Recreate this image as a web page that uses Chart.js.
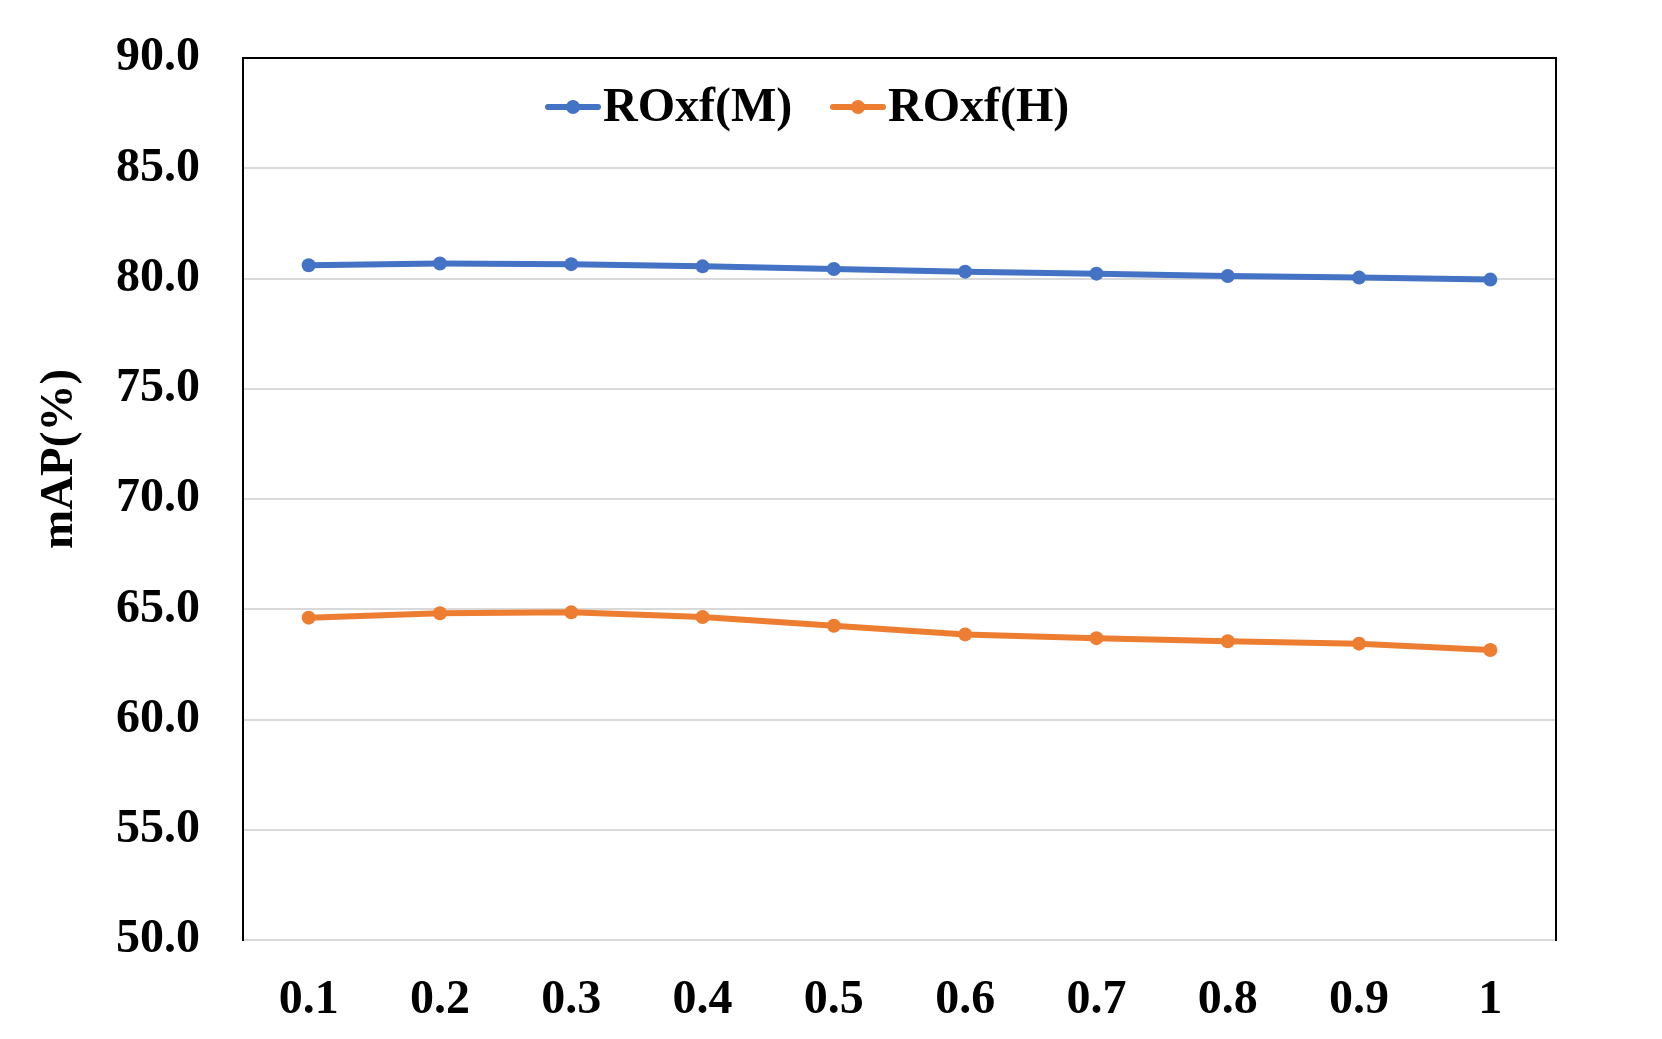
<!DOCTYPE html>
<html>
<head>
<meta charset="utf-8">
<script src="https://cdn.jsdelivr.net/npm/chart.js@4.4.0/dist/chart.umd.min.js"></script>
<style>
  html, body { margin: 0; padding: 0; background: #fff; }
  #wrap { width: 1662px; height: 1039px; }
</style>
</head>
<body>
<div id="wrap"><canvas id="chart"></canvas></div>
<script>
// data
const labels = ['0.1', '0.2', '0.3', '0.4', '0.5', '0.6', '0.7', '0.8', '0.9', '1'];
const mediumVals = [80.60, 80.68, 80.65, 80.55, 80.43, 80.31, 80.22, 80.11, 80.04, 79.95];
const hardVals = [64.62, 64.82, 64.86, 64.65, 64.25, 63.86, 63.69, 63.55, 63.44, 63.15];
const seriesNames = ['ROxf(M)', 'ROxf(H)'];
const yTicks = [50, 55, 60, 65, 70, 75, 80, 85, 90];
const yTitle = 'mAP(%)';

const FONT = "'Liberation Serif', 'Times New Roman', serif";
const BLUE = '#4472C4';
const ORANGE = '#ED7D31';

// legend sits inside the plot and the axis title sits a bit above centre,
// so both are drawn here instead of by the default boxes
const extras = {
  id: 'extras',
  afterDraw(chart) {
    const ctx = chart.ctx;
    const area = chart.chartArea;
    const starts = [305, 590];
    const y = area.top + 49;
    ctx.save();
    ctx.font = 'bold 48px ' + FONT;
    ctx.textBaseline = 'middle';
    ctx.textAlign = 'left';
    chart.data.datasets.forEach((ds, i) => {
      const x0 = area.left + starts[i];
      ctx.strokeStyle = ds.borderColor;
      ctx.lineWidth = ds.borderWidth;
      ctx.lineCap = 'round';
      ctx.beginPath();
      ctx.moveTo(x0, y);
      ctx.lineTo(x0 + 50, y);
      ctx.stroke();
      ctx.fillStyle = ds.borderColor;
      ctx.beginPath();
      ctx.arc(x0 + 25, y, ds.pointRadius, 0, Math.PI * 2);
      ctx.fill();
      ctx.fillStyle = '#000';
      ctx.fillText(ds.label, x0 + 55, y + 2);
    });

    // y axis title
    ctx.translate(60, (area.top + area.bottom) / 2 - 40);
    ctx.rotate(-Math.PI / 2);
    ctx.textAlign = 'center';
    ctx.font = 'bold 47px ' + FONT;
    ctx.fillText(yTitle, 0, 0);
    ctx.restore();
  }
};

new Chart(document.getElementById('chart'), {
  type: 'line',
  data: {
    labels: labels,
    datasets: [{
      label: seriesNames[0],
      data: mediumVals,
      borderColor: BLUE,
      backgroundColor: BLUE,
      borderWidth: 6,
      pointRadius: 7,
      pointBorderWidth: 0,
      tension: 0
    }, {
      label: seriesNames[1],
      data: hardVals,
      borderColor: ORANGE,
      backgroundColor: ORANGE,
      borderWidth: 6,
      pointRadius: 7,
      pointBorderWidth: 0,
      tension: 0
    }]
  },
  options: {
    responsive: true,
    maintainAspectRatio: false,
    animation: false,
    layout: { padding: { top: 58, right: 106, bottom: 0, left: 0 } },
    plugins: {
      legend: { display: false },
      tooltip: { enabled: false }
    },
    scales: {
      x: {
        offset: true,
        grid: { display: false, drawTicks: false },
        border: { display: true, color: '#d9d9d9', width: 2 },
        ticks: {
          color: '#000',
          padding: 32,
          maxRotation: 0,
          font: { family: FONT, size: 48, weight: 'bold' }
        },
        afterFit(scale) { scale.height = 99; }
      },
      xTop: {
        position: 'top',
        offset: true,
        grid: { display: false, drawTicks: false },
        border: { display: true, color: '#000', width: 2 },
        ticks: { display: false },
        afterFit(scale) { scale.height = 0; }
      },
      y: {
        min: 50,
        max: 90,
        afterBuildTicks(scale) { scale.ticks = yTicks.map(v => ({ value: v })); },
        grid: { color: '#d9d9d9', lineWidth: 2, drawTicks: false },
        border: { display: true, color: '#000', width: 2 },
        ticks: {
          color: '#000',
          padding: 43,
          font: { family: FONT, size: 48, weight: 'bold' },
          callback: v => v.toFixed(1)
        },
        afterFit(scale) {
          scale.width = 243;
          // the tick padding would otherwise push the plot down
          scale.paddingTop = 0;
          scale.paddingBottom = 0;
        }
      },
      yRight: {
        position: 'right',
        min: 50,
        max: 90,
        grid: { display: false, drawTicks: false },
        border: { display: true, color: '#000', width: 2 },
        ticks: { display: false },
        afterFit(scale) { scale.width = 0; }
      }
    }
  },
  plugins: [extras]
});
</script>
</body>
</html>
